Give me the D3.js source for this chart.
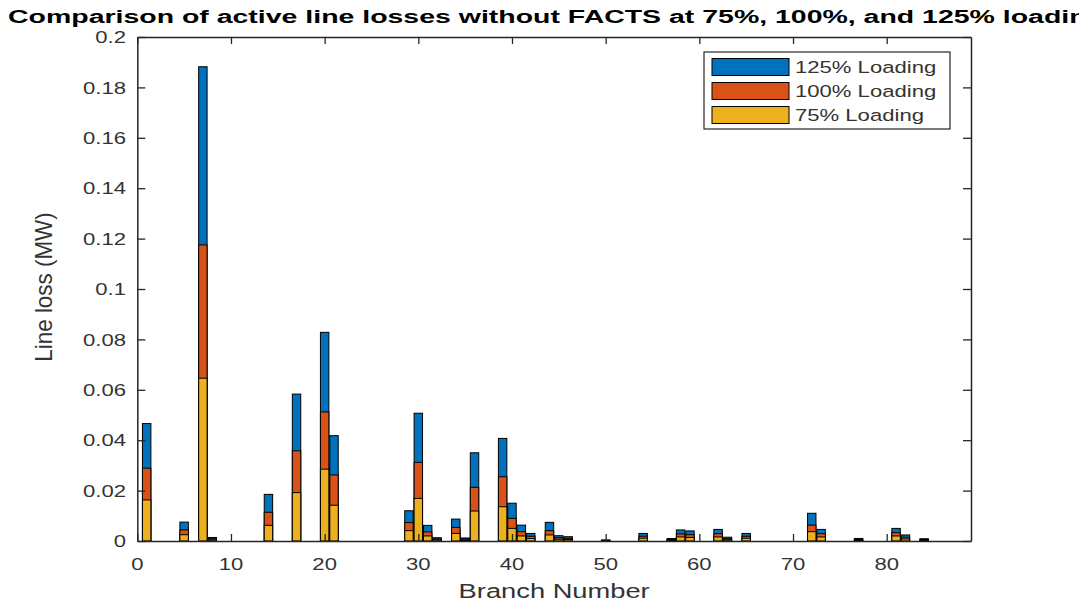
<!DOCTYPE html>
<html>
<head>
<meta charset="utf-8">
<script src="https://cdn.jsdelivr.net/npm/d3@7/dist/d3.min.js"></script>
<style>
  html, body { margin: 0; padding: 0; background: #fff; }
  svg { display: block; font-family: "Liberation Sans", Arial, Helvetica, sans-serif; }
</style>
</head>
<body>
<svg id="chart" width="1079" height="607"></svg>
<script>
// ---- data ----
const branches = [1,5,7,8,14,17,20,21,29,30,31,32,34,35,36,39,40,41,42,44,45,46,50,54,57,58,59,62,63,65,72,73,77,81,82,84];
const load125 = [0.0466,0.0075,0.1882,0.0014,0.0185,0.0583,0.0828,0.0418,0.0120,0.0507,0.0062,0.0013,0.0087,0.0012,0.0350,0.0407,0.0150,0.0063,0.0030,0.0074,0.0021,0.0017,0.0004,0.0030,0.0010,0.0044,0.0040,0.0046,0.0015,0.0030,0.0110,0.0046,0.0010,0.0050,0.0024,0.0009];
const load100 = [0.0289,0.0044,0.1175,0.0009,0.0114,0.0358,0.0512,0.0262,0.0073,0.0312,0.0036,0.0008,0.0054,0.0008,0.0213,0.0255,0.0090,0.0037,0.0019,0.0041,0.0013,0.0011,0.0003,0.0019,0.0006,0.0028,0.0025,0.0029,0.0009,0.0019,0.0063,0.0029,0.0006,0.0033,0.0015,0.0006];
const load75 = [0.0163,0.0025,0.0646,0.0005,0.0062,0.0192,0.0285,0.0142,0.0041,0.0169,0.0020,0.0005,0.0030,0.0004,0.0119,0.0136,0.0050,0.0020,0.0010,0.0024,0.0007,0.0006,0.0002,0.0011,0.0003,0.0016,0.0014,0.0016,0.0005,0.0011,0.0037,0.0016,0.0003,0.0020,0.0008,0.0003];
const seriesNames = ["125% Loading", "100% Loading", "75% Loading"];
const seriesColors = ["#0072BD", "#D95319", "#EDB120"];
const xTicks = [0,10,20,30,40,50,60,70,80];
const yTicks = [0,0.02,0.04,0.06,0.08,0.1,0.12,0.14,0.16,0.18,0.2];
const titleText = "Comparison of active line losses without FACTS at 75%, 100%, and 125% loading";
const xLabel = "Branch Number";
const yLabel = "Line loss (MW)";

// ---- layout ----
const svg = d3.select("#chart");
const L = 137.3, R = 971, T = 37, B = 541;
const x = d3.scaleLinear().domain([0, 89]).range([L, R]);
const y = d3.scaleLinear().domain([0, 0.2]).range([B, T]);
const barW = 0.9;
const axisColor = "#262626";
const textColor = "#333";
const SX = 1.3; // horizontal text stretch seen in the reference

const series = [load125, load100, load75];

// bars: 125% drawn first, then 100%, then 75% on top (overlaid from zero)
series.forEach((vals, si) => {
  svg.append("g")
    .selectAll("rect")
    .data(branches.map((b, i) => ({ b, v: vals[i] })))
    .join("rect")
    .attr("x", d => x(d.b - barW / 2))
    .attr("width", d => x(d.b + barW / 2) - x(d.b - barW / 2))
    .attr("y", d => y(d.v))
    .attr("height", d => y(0) - y(d.v))
    .attr("fill", seriesColors[si])
    .attr("stroke", "#000")
    .attr("stroke-width", 1);
});

// axes (inward ticks, box)
const gAx = svg.append("g");
const xb = d3.axisBottom(x).tickValues(xTicks).tickSizeInner(-7).tickSizeOuter(0).tickFormat("");
const xt = d3.axisTop(x).tickValues(xTicks).tickSizeInner(-7).tickSizeOuter(0).tickFormat("");
const yl = d3.axisLeft(y).tickValues(yTicks).tickSizeInner(-8).tickSizeOuter(0).tickFormat("");
const yr = d3.axisRight(y).tickValues(yTicks).tickSizeInner(-8).tickSizeOuter(0).tickFormat("");
gAx.append("g").attr("transform", `translate(0,${B})`).call(xb);
gAx.append("g").attr("transform", `translate(0,${T})`).call(xt);
gAx.append("g").attr("transform", `translate(${L},0)`).call(yl);
gAx.append("g").attr("transform", `translate(${R},0)`).call(yr);
gAx.selectAll(".domain").attr("stroke", axisColor).attr("stroke-width", 1.5);
gAx.selectAll(".tick line").attr("stroke", axisColor).attr("stroke-width", 1.3);

// tick labels
svg.append("g").selectAll("text").data(yTicks).join("text")
  .attr("transform", d => `translate(126,${y(d)}) scale(${SX},1)`)
  .attr("dy", "0.36em")
  .attr("text-anchor", "end")
  .attr("font-size", 17)
  .attr("fill", textColor)
  .text(d => d3.format("~g")(d));

svg.append("g").selectAll("text").data(xTicks).join("text")
  .attr("transform", d => `translate(${x(d)},570) scale(${SX},1)`)
  .attr("text-anchor", "middle")
  .attr("font-size", 17)
  .attr("fill", textColor)
  .text(d => d);

// axis titles
svg.append("text")
  .attr("transform", `translate(${(L + R) / 2},598) scale(${SX},1)`)
  .attr("text-anchor", "middle")
  .attr("font-size", 21)
  .attr("fill", textColor)
  .text(xLabel);

svg.append("text")
  .attr("transform", `translate(52,287) rotate(-90) scale(1.18,1.3)`)
  .attr("text-anchor", "middle")
  .attr("font-size", 19)
  .attr("fill", textColor)
  .text(yLabel);

// title
svg.append("text")
  .attr("x", 8).attr("y", 23)
  .attr("font-size", 18)
  .attr("font-weight", "bold")
  .attr("fill", "#000")
  .attr("textLength", 1096)
  .attr("lengthAdjust", "spacingAndGlyphs")
  .text(titleText);

// legend
const lg = svg.append("g");
lg.append("rect").attr("x", 704).attr("y", 52).attr("width", 246).attr("height", 77)
  .attr("fill", "#fff").attr("stroke", axisColor).attr("stroke-width", 1.2);
const rowY = [67, 91, 115];
seriesNames.forEach((name, i) => {
  lg.append("rect").attr("x", 712).attr("y", rowY[i] - 8.5).attr("width", 77).attr("height", 17)
    .attr("fill", seriesColors[i]).attr("stroke", "#000").attr("stroke-width", 1);
  lg.append("text")
    .attr("transform", `translate(795,${rowY[i]}) scale(${SX},1)`)
    .attr("dy", "0.36em")
    .attr("font-size", 17)
    .attr("fill", textColor)
    .text(name);
});
</script>
</body>
</html>
